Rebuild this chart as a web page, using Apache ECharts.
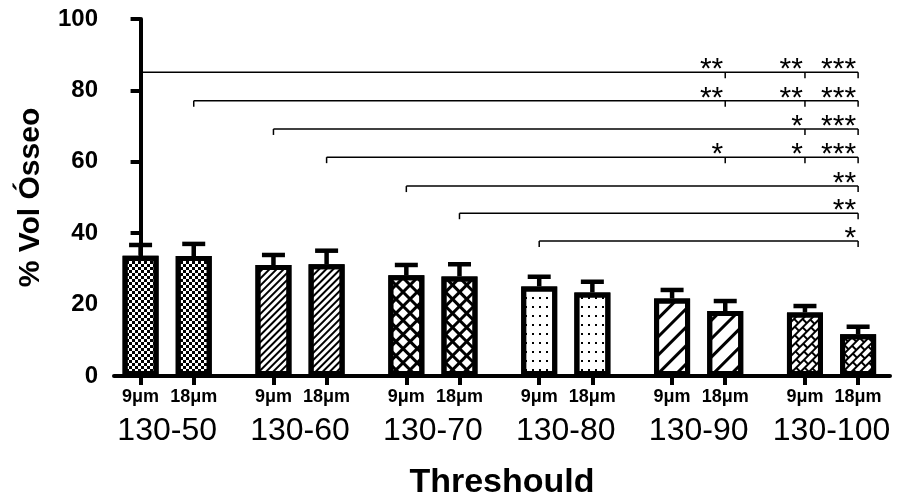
<!DOCTYPE html>
<html><head><meta charset="utf-8">
<script src="https://cdn.jsdelivr.net/npm/echarts@6/dist/echarts.min.js"></script>
<style>html,body{margin:0;padding:0;background:#fff}#c{width:908px;height:501px}</style>
</head><body><div id="c"></div>
<script>
// ---------- data ----------
const groups = ['130-50', '130-60', '130-70', '130-80', '130-90', '130-100'];
const resolutions = ['9μm', '18μm'];
const means = [33.7, 33.6, 31.1, 31.3, 28.2, 27.9, 25.1, 23.4, 21.7, 18.2, 17.8, 11.7];
const sems  = [3.0, 3.4, 2.8, 3.8, 2.9, 3.4, 2.7, 3.0, 2.4, 2.8, 1.8, 2.1];
const yTicks = [0, 20, 40, 60, 80, 100];
const bracketFrom = [0, 1, 2, 3, 4, 5, 6];
const bracketLevels = [85.1, 77.1, 69.2, 61.3, 53.2, 45.6, 37.8];
const bracketTargets = [[9, 10, 11], [9, 10, 11], [10, 11], [9, 10, 11], [11], [11], [11]];
const bracketStars = [['**', '**', '***'], ['**', '**', '***'], ['*', '***'], ['*', '*', '***'], ['**'], ['**'], ['*']];
const xAxisTitle = 'Threshould';
const yAxisTitle = '% Vol Ósseo';

// ---------- layout helpers ----------
const GROUP_STEP = 5, SUB_STEP = 2;
const xOf = i => Math.floor(i / 2) * GROUP_STEP + (i % 2) * SUB_STEP;
const barXs = means.map((_, i) => xOf(i));
const groupXs = groups.map((_, g) => g * GROUP_STEP + SUB_STEP / 2);
const FONT = 'Liberation Sans, Arial, Helvetica, sans-serif';
const XMIN = -1, XMAX = 28.2;

const base = { symbol: 'rect', symbolSize: 1, symbolKeepAspect: false, color: '#000' };
const decals = [
  Object.assign({}, base, { dashArrayX: [[3, 3], [0, 3, 3, 0]], dashArrayY: [3, 0] }),
  Object.assign({}, base, { dashArrayX: [10, 0], dashArrayY: [1.5, 2.5], rotation: -Math.PI / 4 }),
  Object.assign({}, base, { dashArrayX: [[9.5, 0], [2.5, 7]], dashArrayY: [2.5, 0, 7, 0], rotation: Math.PI / 4 }),
  Object.assign({}, base, { dashArrayX: [1.5, 4.5], dashArrayY: [1.5, 6.5] }),
  Object.assign({}, base, { dashArrayX: [10, 0], dashArrayY: [2.5, 9.5], rotation: -Math.PI / 4 }),
  Object.assign({}, base, { dashArrayX: [[10, 0], [1.5, 8.5], [10, 0], [0, 5, 1.5, 3.5]], dashArrayY: [1.5, 0, 4, 0, 1.5, 0, 4, 0], rotation: -Math.PI / 4 })
];

const labelOf = v => {
  const i = barXs.findIndex(x => Math.abs(x - v) < 1e-6);
  return i >= 0 ? resolutions[i % 2] : '';
};
const groupOf = v => {
  const g = groupXs.findIndex(x => Math.abs(x - v) < 1e-6);
  return g >= 0 ? groups[g] : '';
};

const chart = echarts.init(document.getElementById('c'), null, { renderer: 'canvas' });
chart.setOption({
  animation: false,
  backgroundColor: '#fff',
  grid: { left: 114, right: 18, top: 19, bottom: 125, containLabel: false, outerBoundsMode: 'none' },
  xAxis: [
    {
      type: 'value', min: XMIN, max: XMAX, position: 'bottom',
      axisLine: { show: true, onZero: false, lineStyle: { color: '#000', width: 4 } },
      axisTick: { show: true, customValues: barXs, length: 9, lineStyle: { color: '#000', width: 4 } },
      axisLabel: { customValues: barXs, formatter: labelOf, color: '#000', fontFamily: FONT, fontWeight: 'bold', fontSize: 18, margin: 12 },
      splitLine: { show: false }
    },
    {
      type: 'value', min: XMIN, max: XMAX, position: 'bottom', offset: 0,
      axisLine: { show: false }, axisTick: { show: false }, splitLine: { show: false },
      axisLabel: { customValues: groupXs, formatter: groupOf, color: '#000', fontFamily: FONT, fontSize: 32, margin: 39 },
      name: xAxisTitle, nameLocation: 'middle', nameGap: 90,
      nameTextStyle: { color: '#000', fontFamily: FONT, fontWeight: 'bold', fontSize: 34 }
    }
  ],
  yAxis: {
    type: 'value', min: yTicks[0], max: yTicks[yTicks.length - 1], interval: yTicks[1] - yTicks[0],
    axisLine: { show: true, lineStyle: { color: '#000', width: 4 } },
    axisTick: { show: true, length: 10, lineStyle: { color: '#000', width: 4 } },
    axisLabel: { color: '#000', fontFamily: FONT, fontWeight: 'bold', fontSize: 24, margin: 16 },
    splitLine: { show: false },
    name: yAxisTitle, nameLocation: 'middle', nameGap: 68,
    nameTextStyle: { color: '#000', fontFamily: FONT, fontWeight: 'bold', fontSize: 30 }
  },
  series: [
    {
      type: 'bar', xAxisIndex: 0, yAxisIndex: 0, barWidth: 36, z: 2,
      data: means.map((m, i) => ({
        value: [xOf(i), m],
        itemStyle: { color: '#fff', borderColor: '#000', borderWidth: 5, decal: decals[Math.floor(i / 2)] }
      }))
    },
    {
      type: 'custom', xAxisIndex: 0, yAxisIndex: 0, z: 4,
      data: means.map((m, i) => [xOf(i), m, m + sems[i]]),
      renderItem: function (params, api) {
        const x = api.value(0);
        const p0 = api.coord([x, api.value(1)]);
        const p1 = api.coord([x, api.value(2)]);
        return {
          type: 'group', children: [
            { type: 'line', shape: { x1: p0[0], y1: p0[1], x2: p1[0], y2: p1[1] }, style: { stroke: '#000', lineWidth: 4.5 } },
            { type: 'line', shape: { x1: p1[0] - 11.5, y1: p1[1], x2: p1[0] + 11.5, y2: p1[1] }, style: { stroke: '#000', lineWidth: 4.5 } }
          ]
        };
      }
    },
    {
      type: 'custom', xAxisIndex: 0, yAxisIndex: 0, z: 5,
      data: bracketFrom.map((f, k) => [xOf(f), bracketLevels[k], xOf(bracketTargets[k][bracketTargets[k].length - 1])]),
      renderItem: function (params, api) {
        const k = params.dataIndex;
        const pl = api.coord([api.value(0), api.value(1)]);
        const pr = api.coord([api.value(2), api.value(1)]);
        const y = pl[1];
        const children = [
          { type: 'line', shape: { x1: pl[0], y1: y, x2: pr[0], y2: y }, style: { stroke: '#000', lineWidth: 1.5 } },
          { type: 'line', shape: { x1: pl[0], y1: y, x2: pl[0], y2: y + 6 }, style: { stroke: '#000', lineWidth: 1.5 } }
        ];
        bracketTargets[k].forEach((t, j) => {
          const xt = api.coord([xOf(t), api.value(1)])[0];
          children.push({ type: 'line', shape: { x1: xt, y1: y, x2: xt, y2: y + 6 }, style: { stroke: '#000', lineWidth: 1.5 } });
          children.push({
            type: 'text', x: xt - 2, y: y - 2,
            style: { text: bracketStars[k][j], fill: '#000', font: '30px ' + FONT, align: 'right', verticalAlign: 'middle', textAlign: 'right', textVerticalAlign: 'middle' }
          });
        });
        return { type: 'group', children: children };
      }
    }
  ]
});
</script>
</body></html>
